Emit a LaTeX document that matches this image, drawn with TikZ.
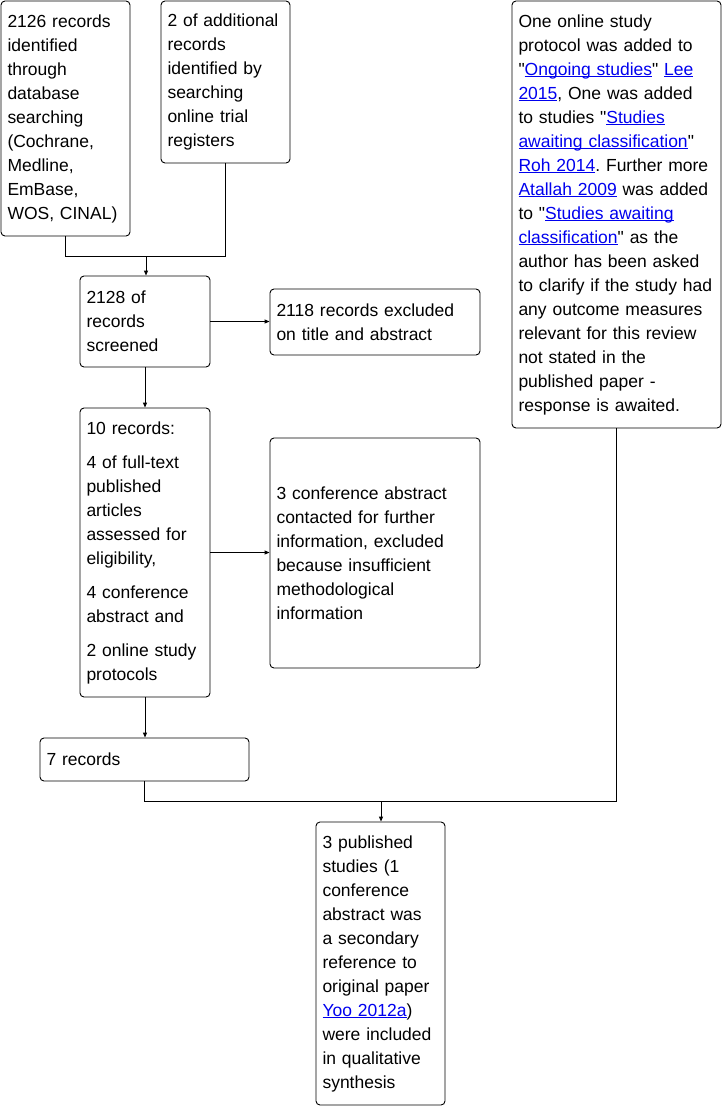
\documentclass[tikz,border=0pt]{standalone}
\usepackage{fontspec}
\setmainfont{Liberation Sans}
\usepackage{tikz}
\usetikzlibrary{arrows.meta,positioning,calc}

\definecolor{linkblue}{RGB}{0,0,238}
\newcommand{\lnk}[1]{\textcolor{linkblue}{\underline{\smash{#1}}}}
\newcommand{\q}{\textquotedbl}
\newcommand{\liftup}{\endgraf\vskip3pt}
\frenchspacing

\begin{document}
\begin{tikzpicture}[x=1pt,y=-1pt,
  box/.style={draw,rounded corners=4pt,line width=0.9pt,align=left,inner xsep=6.5pt,inner ysep=0pt,
    font=\fontsize{17.5}{24}\selectfont,execute at end node=\liftup},
  arr/.style={-{Triangle[length=5pt,width=4pt]}}]
\useasboundingbox (0,0) rectangle (722,1106);
\tikzset{every path/.style={line width=0.9pt}}

% identification
\node[box,text width=116pt,minimum height=235pt] (db) at (65.5,118.5)
  {2126 records\\identified\\through\\database\\searching\\(Cochrane,\\Medline,\\EmBase,\\WOS, CINAL)};
\node[box,text width=116pt,minimum height=162pt] (reg) at (225.5,82)
  {2 of additional\\records\\identified by\\searching\\online trial\\registers};

% screening
\node[box,text width=117pt,minimum height=91pt] (scr) at (145,321.5)
  {2128 of\\records\\screened};
\node[box,text width=197pt,minimum height=66pt] (excl) at (375,322)
  {2118 records excluded\\on title and abstract};

% eligibility
\node[box,text width=117pt,minimum height=289pt] (elig) at (145,552.5)
  {10 records:\\[10pt]4 of full-text\\published\\articles\\assessed for\\eligibility,\\[10pt]4 conference\\abstract and\\[10pt]2 online study\\protocols};
\node[box,text width=197pt,minimum height=230pt] (conf) at (375,553)
  {3 conference abstract\\contacted for further\\information, excluded\\because insufficient\\methodological\\information};

\node[box,text width=196pt,minimum height=427pt] (onl) at (616.5,214.5)
  {One online study\\protocol was added to\\\q\lnk{Ongoing studies}\q{} \lnk{Lee}\\\lnk{2015}, One was added\\to studies \q\lnk{Studies}\\\lnk{awaiting classification}\q\\\lnk{Roh 2014}. Further more\\\lnk{Atallah 2009} was added\\to \q\lnk{Studies awaiting}\\\lnk{classification}\q{} as the\\author has been asked\\to clarify if the study had\\any outcome measures\\relevant for this review\\not stated in the\\published paper -\\response is awaited.};

% included
\node[box,text width=196pt,minimum height=43pt] (seven) at (144.5,759.5) {7 records};
\node[box,text width=116pt,minimum height=283pt] (incl) at (380.5,963.5)
  {3 published\\studies (1\\conference\\abstract was\\a secondary\\reference to\\original paper\\\lnk{Yoo 2012a})\\were included\\in qualitative\\synthesis};

\coordinate (j1) at (146,256);
\coordinate (j2) at (381,801);

\draw (db.south) |- (j1);
\draw (reg.south) |- (j1);
\draw[arr] (j1) -- (j1 |- scr.north);
\draw[arr] (scr.east) -- (scr.east -| excl.west);
\draw[arr] (scr.south) -- (elig.north);
\draw[arr] (elig.east) -- (elig.east -| conf.west);
\draw[arr] (elig.south) -- (elig.south |- seven.north);
\draw (seven.south) |- (j2);
\draw (onl.south) |- (j2);
\draw[arr] (j2) -- (j2 |- incl.north);
\end{tikzpicture}
\end{document}
